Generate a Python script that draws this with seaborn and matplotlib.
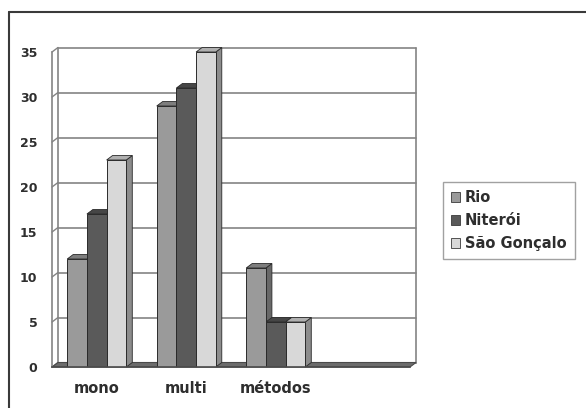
import matplotlib
matplotlib.use("Agg")
import matplotlib.pyplot as plt
from matplotlib.patches import Polygon, Rectangle
from matplotlib.lines import Line2D
import seaborn as sns
import pandas as pd

# Número de trabalhos por tipo de abordagem e município
categories = ["mono", "multi", "métodos"]
slots = categories + [""]
cities = ["Rio", "Niterói", "São Gonçalo"]
rio = [12, 29, 11]
niteroi = [17, 31, 5]
sao_goncalo = [23, 35, 5]
y_ticks = [0, 5, 10, 15, 20, 25, 30, 35]

front_colors = ["#9a9a9a", "#5a5a5a", "#d8d8d8"]
top_colors = ["#7e7e7e", "#464646", "#b0b0b0"]
side_colors = ["#686868", "#3a3a3a", "#8c8c8c"]
wall_color = "#848484"
text_color = "#2e2e2e"

df = pd.DataFrame({
    "categoria": categories * 3,
    "cidade": [c for c in cities for _ in categories],
    "valor": rio + niteroi + sao_goncalo,
})

sns.set_style("white")
plt.rcParams["font.family"] = ["DejaVu Sans"]

W, H = 586, 408
fig = plt.figure(figsize=(W / 100, H / 100), dpi=100)
ax_left, ax_right, ax_top, ax_bottom = 52, 410, 52, 367
ax = fig.add_axes([ax_left / W, (H - ax_bottom) / H,
                   (ax_right - ax_left) / W, (ax_bottom - ax_top) / H])

sns.barplot(data=df, x="categoria", y="valor", hue="cidade",
            order=slots, hue_order=cities, palette=front_colors,
            width=0.66, saturation=1, edgecolor="#2a2a2a", linewidth=0.7,
            legend=False, ax=ax, zorder=4)

ax.set_xlim(-0.5, len(slots) - 0.5)
ax.set_ylim(0, max(y_ticks))

# depth of the pseudo-3D box, in pixels converted to data units
depth_px_x, depth_px_y = 6.0, 4.5
dx = depth_px_x * (len(slots)) / (ax_right - ax_left)
dy = depth_px_y * max(y_ticks) / (ax_bottom - ax_top)

x0, x1 = -0.5, len(slots) - 0.5
y_top = max(y_ticks)

# floor
ax.add_patch(Polygon([(x0, 0), (x1, 0), (x1 + dx, dy), (x0 + dx, dy)],
                     closed=True, facecolor="#6c6c6c", edgecolor="#4a4a4a",
                     lw=0.8, zorder=1, clip_on=False))
# back wall gridlines and side-wall connectors
for t in y_ticks:
    ax.add_line(Line2D([x0 + dx, x1 + dx], [t + dy, t + dy], color=wall_color,
                       lw=1.2, zorder=0.5, clip_on=False))
    ax.add_line(Line2D([x0, x0 + dx], [t, t + dy], color=wall_color,
                       lw=1.0, zorder=0.5, clip_on=False))
ax.add_line(Line2D([x0 + dx, x0 + dx], [dy, y_top + dy], color=wall_color,
                   lw=1.2, zorder=0.5, clip_on=False))
ax.add_line(Line2D([x1 + dx, x1 + dx], [dy, y_top + dy], color=wall_color,
                   lw=1.2, zorder=0.5, clip_on=False))

# side and top faces of every bar
for i, cont in enumerate(ax.containers):
    for rect in cont:
        bx, bw, bh = rect.get_x(), rect.get_width(), rect.get_height()
        side = Polygon([(bx + bw, 0), (bx + bw + dx, dy),
                        (bx + bw + dx, bh + dy), (bx + bw, bh)],
                       closed=True, facecolor=side_colors[i],
                       edgecolor="#2a2a2a", lw=0.6, zorder=2, clip_on=False)
        top = Polygon([(bx, bh), (bx + bw, bh), (bx + bw + dx, bh + dy),
                       (bx + dx, bh + dy)],
                      closed=True, facecolor=top_colors[i],
                      edgecolor="#2a2a2a", lw=0.6, zorder=3, clip_on=False)
        ax.add_patch(side)
        ax.add_patch(top)

# axes styling
for s in ["top", "right"]:
    ax.spines[s].set_visible(False)
ax.spines["left"].set_color(wall_color)
ax.spines["left"].set_linewidth(1.2)
ax.spines["bottom"].set_color("#4a4a4a")
ax.spines["bottom"].set_linewidth(1.2)
ax.spines["left"].set_zorder(1)
ax.spines["bottom"].set_zorder(5)

ax.set_yticks(y_ticks)
ax.set_yticklabels([str(t) for t in y_ticks])
ax.tick_params(axis="y", direction="out", length=5, width=1, color=wall_color,
               pad=5.5, labelsize=9, labelcolor=text_color)
ax.set_xticks(range(len(slots)))
ax.set_xticklabels(slots)
ax.set_xticks([i - 0.5 for i in range(len(slots) + 1)], minor=True)
ax.tick_params(axis="x", which="major", length=0, pad=10, labelsize=10.5,
               labelcolor=text_color)
ax.tick_params(axis="x", which="minor", direction="out", length=5, width=1,
               color=wall_color)
for lab in ax.get_xticklabels() + ax.get_yticklabels():
    lab.set_fontweight("bold")
ax.set_xlabel("")
ax.set_ylabel("")
ax.grid(False)

# legend
handles = [Rectangle((0, 0), 1, 1, facecolor=c, edgecolor="#3a3a3a", lw=0.6)
           for c in front_colors]
leg = fig.legend(handles, cities, loc="upper left",
                 bbox_to_anchor=(443 / W, (H - 182) / H), borderaxespad=0,
                 frameon=True, fancybox=False, edgecolor="#8a8a8a",
                 handlelength=0.6, handleheight=0.6, handletextpad=0.35,
                 labelspacing=0.55, borderpad=0.55,
                 prop={"weight": "bold", "size": 10.5})
leg.get_frame().set_linewidth(1.0)
for t in leg.get_texts():
    t.set_color(text_color)

# outer frame
fig.add_artist(Line2D([9.5 / W, 9.5 / W], [0, (H - 12) / H],
                      transform=fig.transFigure, color="#3a3a3a", lw=1.5))
fig.add_artist(Line2D([9.5 / W, 1], [(H - 12) / H, (H - 12) / H],
                      transform=fig.transFigure, color="#3a3a3a", lw=1.5))

fig.savefig("out.png", dpi=100)
